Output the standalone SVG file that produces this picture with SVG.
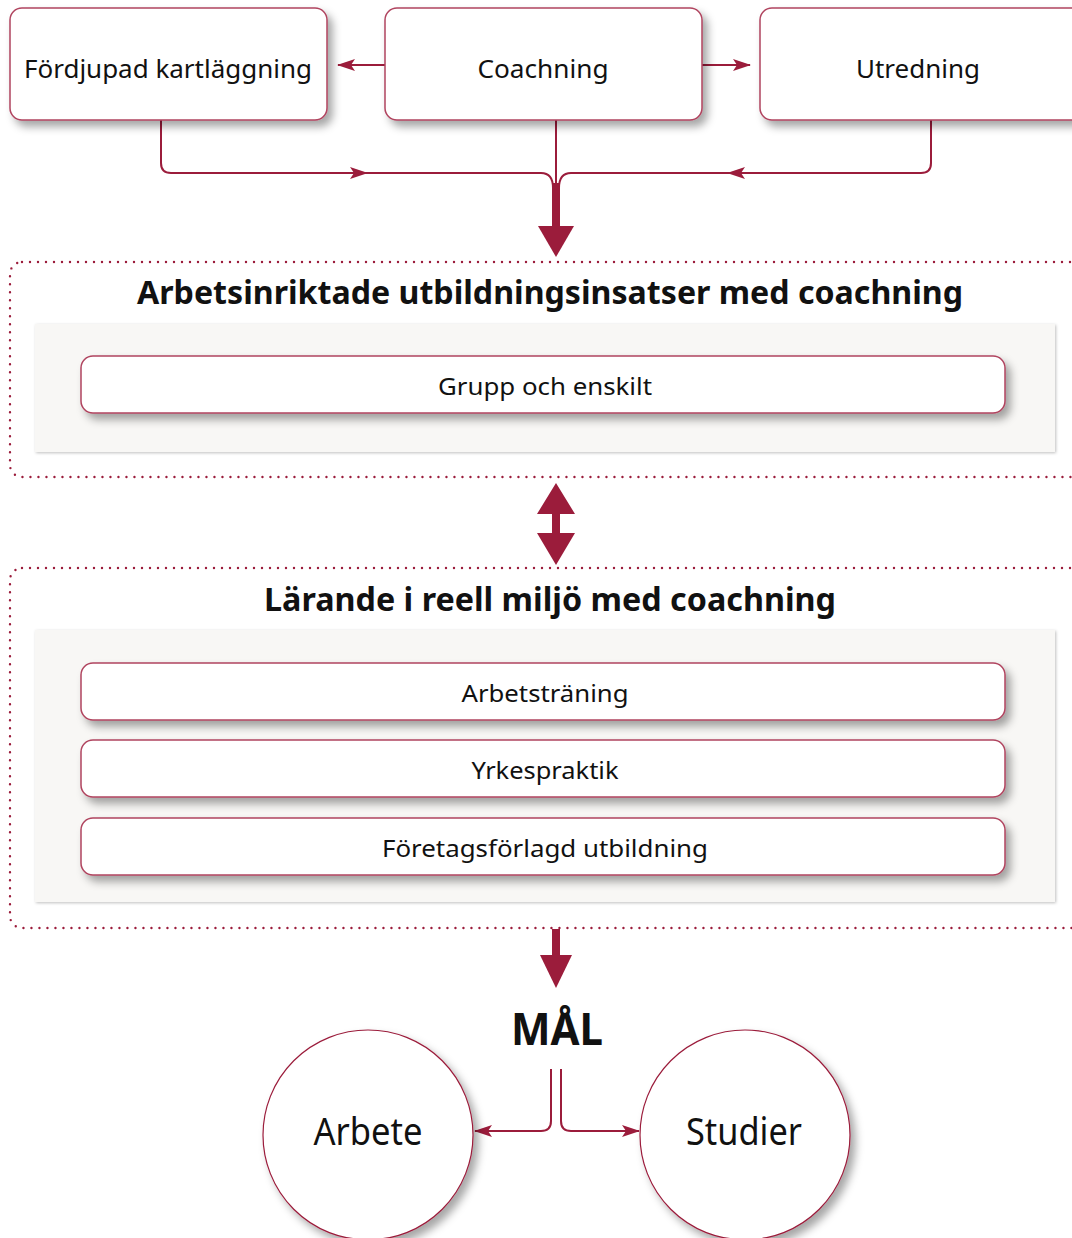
<svg xmlns="http://www.w3.org/2000/svg" width="1072" height="1238" viewBox="0 0 1072 1238">
<style>
.box{fill:#fff;stroke:#b0445f;stroke-width:1.5}
.panel{fill:#f8f7f5}
.dot{fill:none;stroke:#9b1c3b;stroke-width:2.4;stroke-dasharray:0 8;stroke-linecap:round}
.t{font-family:"Noto Sans","Open Sans","Liberation Sans",sans-serif;fill:#111;text-anchor:middle}
.b{font-weight:bold}
.ln{fill:none;stroke:#9b1c3b;stroke-width:2}
.fill{fill:#9b1c3b}
</style>
<defs>
<filter id="sh" x="-10%" y="-20%" width="130%" height="160%">
<feDropShadow dx="5" dy="6" stdDeviation="4" flood-color="#000" flood-opacity="0.35"/>
</filter>
<filter id="sh2" x="-5%" y="-10%" width="110%" height="130%">
<feDropShadow dx="1" dy="1" stdDeviation="1.5" flood-color="#000" flood-opacity="0.25"/>
</filter>
<marker id="ah" markerWidth="18" markerHeight="14" refX="17" refY="7" orient="auto" markerUnits="userSpaceOnUse">
<path d="M0,1 L18,7 L0,13 L4,7 Z" fill="#9b1c3b"/>
</marker>
</defs>

<g id="containers">
<rect class="dot" x="10" y="262" width="1090" height="215" rx="12"/>
<rect class="dot" x="10" y="568" width="1090" height="360" rx="12"/>
</g>

<g id="connectors">
<line class="ln" x1="385" y1="65" x2="338" y2="65" marker-end="url(#ah)"/>
<line class="ln" x1="702" y1="65" x2="750" y2="65" marker-end="url(#ah)"/>
<path class="ln" d="M161,120 V163 Q161,173 171,173 H367" marker-end="url(#ah)"/>
<path class="ln" d="M365,173 H541 Q553,173 553,188"/>
<path class="ln" d="M931,120 V163 Q931,173 921,173 H728" marker-end="url(#ah)"/>
<path class="ln" d="M733,173 H571 Q559,173 559,188"/>
<line class="ln" x1="556" y1="120" x2="556" y2="190"/>
<rect class="fill" x="552" y="183" width="8" height="45"/>
<path class="fill" d="M538,226 L574,226 L556,257 Z"/>
<path class="fill" d="M556,483 L575,514 L560,514 L560,533 L575,533 L556,565 L537,533 L552,533 L552,514 L537,514 Z"/>
<rect class="fill" x="552" y="929" width="8" height="28"/>
<path class="fill" d="M540,955 L572,955 L556,988 Z"/>
<path class="ln" d="M551,1069 V1121 Q551,1131 541,1131 H475" marker-end="url(#ah)" stroke-width="1.8"/>
<path class="ln" d="M561,1069 V1121 Q561,1131 571,1131 H639" marker-end="url(#ah)" stroke-width="1.8"/>
</g>

<g id="n-fordjupad">
<rect class="box" x="10" y="8" width="317" height="112" rx="12" filter="url(#sh)"/>
<text class="t" x="168" y="78" font-size="26" textLength="288" lengthAdjust="spacingAndGlyphs">Fördjupad kartläggning</text>
</g>
<g id="n-coachning">
<rect class="box" x="385" y="8" width="317" height="112" rx="12" filter="url(#sh)"/>
<text class="t" x="543" y="78" font-size="26" textLength="131" lengthAdjust="spacingAndGlyphs">Coachning</text>
</g>
<g id="n-utredning">
<rect class="box" x="760" y="8" width="330" height="112" rx="12" filter="url(#sh)"/>
<text class="t" x="918" y="78" font-size="26" textLength="124" lengthAdjust="spacingAndGlyphs">Utredning</text>
</g>

<g id="n-arbetsinriktade">
<text class="t b" x="550" y="304" font-size="32" textLength="826" lengthAdjust="spacingAndGlyphs">Arbetsinriktade utbildningsinsatser med coachning</text>
<rect class="panel" x="35" y="324" width="1020" height="128" filter="url(#sh2)"/>
<g id="n-grupp">
<rect class="box" x="81" y="356" width="924" height="57" rx="12" filter="url(#sh)"/>
<text class="t" x="545" y="395" font-size="24" textLength="214" lengthAdjust="spacingAndGlyphs">Grupp och enskilt</text>
</g>
</g>

<g id="n-larande">
<text class="t b" x="550" y="611" font-size="32" textLength="572" lengthAdjust="spacingAndGlyphs">Lärande i reell miljö med coachning</text>
<rect class="panel" x="35" y="630" width="1020" height="272" filter="url(#sh2)"/>
<g id="n-arbetstraning">
<rect class="box" x="81" y="663" width="924" height="57" rx="12" filter="url(#sh)"/>
<text class="t" x="545" y="702" font-size="24" textLength="167" lengthAdjust="spacingAndGlyphs">Arbetsträning</text>
</g>
<g id="n-yrkespraktik">
<rect class="box" x="81" y="740" width="924" height="57" rx="12" filter="url(#sh)"/>
<text class="t" x="545" y="779" font-size="24" textLength="147" lengthAdjust="spacingAndGlyphs">Yrkespraktik</text>
</g>
<g id="n-foretag">
<rect class="box" x="81" y="818" width="924" height="57" rx="12" filter="url(#sh)"/>
<text class="t" x="545" y="857" font-size="24" textLength="326" lengthAdjust="spacingAndGlyphs">Företagsförlagd utbildning</text>
</g>
</g>

<g id="n-mal">
<text class="t b" x="557" y="1045" font-size="44" textLength="92" lengthAdjust="spacingAndGlyphs">MÅL</text>
</g>
<g id="n-arbete">
<circle cx="368" cy="1135" r="105" fill="#fff" stroke="#9b1c3b" stroke-width="1.2" filter="url(#sh)"/>
<text class="t" x="368" y="1145" font-size="38" textLength="109" lengthAdjust="spacingAndGlyphs">Arbete</text>
</g>
<g id="n-studier">
<circle cx="745" cy="1135" r="105" fill="#fff" stroke="#9b1c3b" stroke-width="1.2" filter="url(#sh)"/>
<text class="t" x="744" y="1145" font-size="38" textLength="116" lengthAdjust="spacingAndGlyphs">Studier</text>
</g>
</svg>
